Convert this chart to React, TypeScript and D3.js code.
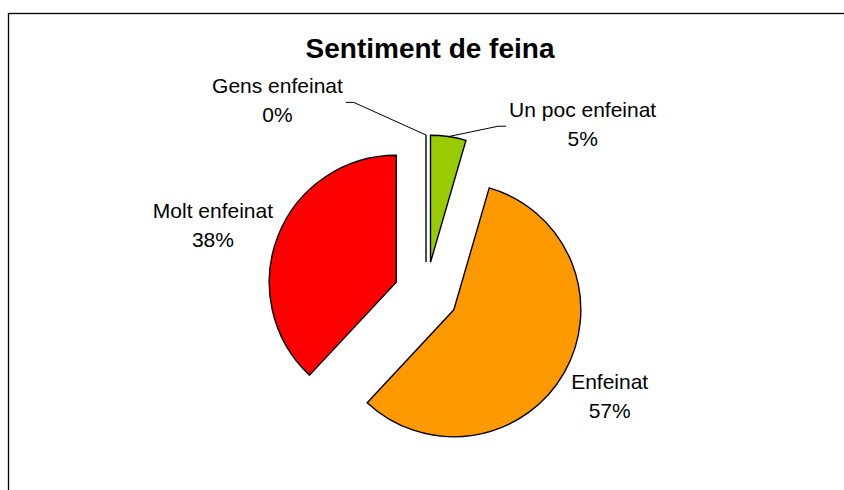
import React from "react";
import * as d3 from "d3";

const chartTitle = "Sentiment de feina";
const categories = ["Gens enfeinat", "Un poc enfeinat", "Enfeinat", "Molt enfeinat"];
const values = [0, 4.5, 57.45, 38.05];
const colors = ["#FFFFFF", "#99CC00", "#FF9900", "#FF0000"];

const W = 844;
const H = 490;
const CX = 426;
const CY = 294;
const R = 127;
const EXPLODE = 32;
const FONT = "'Liberation Sans', Arial, sans-serif";
const LABEL_SIZE = 21;
const LINE_GAP = 29;

// label block centre: angle (deg, clockwise from 12 o'clock) and distance from pie centre
const labelPlacement = [
  { angle: -37.5, dist: 244, leader: true },
  { angle: 42.7, dist: 231, leader: true },
  { angle: 119, dist: 210, leader: false },
  { angle: 288, dist: 224, leader: false },
];

function measure(text: string): number {
  if (typeof document === "undefined") return text.length * LABEL_SIZE * 0.5;
  const c = document.createElement("canvas").getContext("2d");
  if (!c) return text.length * LABEL_SIZE * 0.5;
  c.font = `${LABEL_SIZE}px ${FONT}`;
  return c.measureText(text).width;
}

export default function App() {
  const total = d3.sum(values);
  const pie = d3.pie<number>().sort(null).value((d) => d).startAngle(0).endAngle(2 * Math.PI);
  const arcs = pie(values);
  const arc = d3.arc<d3.PieArcDatum<number>>().innerRadius(0).outerRadius(R);

  return (
    <svg
      width={W}
      height={H}
      style={{ position: "absolute", left: 0, top: 0, background: "#fff" }}
    >
      <rect x={8.5} y={13.5} width={W + 20} height={H + 20} fill="#fff" stroke="#000" strokeWidth={1.3} />
      <text
        x={430}
        y={58}
        textAnchor="middle"
        fontFamily={FONT}
        fontWeight="bold"
        fontSize={28}
        fill="#000"
      >
        {chartTitle}
      </text>
      {arcs.map((a, i) => {
        const mid = (a.startAngle + a.endAngle) / 2;
        const ox = EXPLODE * Math.sin(mid);
        const oy = -EXPLODE * Math.cos(mid);
        return (
          <path
            key={categories[i]}
            d={arc(a) || ""}
            transform={`translate(${CX + ox},${CY + oy})`}
            fill={colors[i]}
            stroke="#000"
            strokeWidth={1.4}
            strokeLinejoin="miter"
          />
        );
      })}
      {arcs.map((a, i) => {
        const p = labelPlacement[i];
        const ang = (p.angle * Math.PI) / 180;
        const lx = CX + p.dist * Math.sin(ang);
        const ly = CY - p.dist * Math.cos(ang);
        const b1 = ly - 7;
        const b2 = b1 + LINE_GAP;
        const pct = `${Math.round((values[i] / total) * 100)}%`;
        let leader = null;
        if (p.leader) {
          const mid = (a.startAngle + a.endAngle) / 2;
          const tx = CX + (R + EXPLODE) * Math.sin(mid);
          const ty = CY - (R + EXPLODE) * Math.cos(mid);
          const halfW = measure(categories[i]) / 2;
          const dir = tx > lx ? 1 : -1;
          const sx = lx + dir * (halfW + 3);
          const sy = b1 + 9;
          const kx = sx + dir * 8;
          leader = (
            <polyline
              points={`${sx},${sy} ${kx},${sy} ${tx},${ty}`}
              fill="none"
              stroke="#000"
              strokeWidth={1}
            />
          );
        }
        return (
          <g key={`lbl-${i}`}>
            {leader}
            <text x={lx} y={b1} textAnchor="middle" fontFamily={FONT} fontSize={LABEL_SIZE} fill="#000">
              {categories[i]}
            </text>
            <text x={lx} y={b2} textAnchor="middle" fontFamily={FONT} fontSize={LABEL_SIZE} fill="#000">
              {pct}
            </text>
          </g>
        );
      })}
    </svg>
  );
}
